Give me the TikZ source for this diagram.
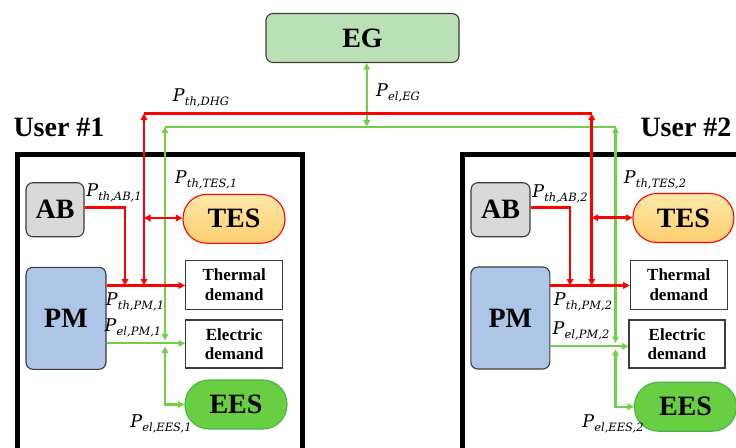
\documentclass[tikz,border=0pt]{standalone}
\usepackage{fontspec}
\setmainfont{Liberation Serif}
\newfontfamily\lblfont{DejaVu Serif}
\newcommand{\plab}[1]{{\lblfont\itshape\fontsize{17.5}{19}\selectfont P\kern0.2pt\raisebox{-4.2pt}{\fontsize{11.5}{12}\selectfont #1}}}
\usetikzlibrary{arrows.meta}
\definecolor{lred}{RGB}{255,0,0}
\definecolor{lgreen}{RGB}{112,208,72}
\definecolor{egfill}{RGB}{186,224,181}
\definecolor{abfill}{RGB}{217,217,217}
\definecolor{pmfill}{RGB}{173,198,232}
\definecolor{tesTop}{RGB}{255,232,168}
\definecolor{tesBot}{RGB}{252,206,112}
\definecolor{eesfill}{RGB}{104,206,66}
\definecolor{eesdraw}{RGB}{70,180,70}
\definecolor{boxdraw}{RGB}{60,60,60}
\tikzset{
  tip/.tip={Triangle[length=6.5pt,width=6.5pt]},
  big/.style={font=\fontsize{28}{30}\selectfont\bfseries, inner sep=0pt},
  unitbox/.style={big, draw=boxdraw, line width=1.1pt, rounded corners=7pt},
  storebox/.style={big, line width=1.1pt, rounded corners=24pt},
  demandbox/.style={draw=boxdraw, line width=1.2pt, fill=white, align=center, inner sep=0pt,
    font=\fontsize{17}{19.5}\selectfont\bfseries, minimum width=97pt, minimum height=49pt},
  redline/.style={draw=lred, line width=2.6pt},
  greenline/.style={draw=lgreen, line width=2.3pt},
  lbl/.style={inner sep=0pt},
  userlbl/.style={font=\fontsize{28}{30}\selectfont\bfseries, inner sep=0pt},
  frame/.style={draw=black, line width=5pt}
}
\begin{document}
\begin{tikzpicture}[x=1pt,y=-1pt]
\useasboundingbox (0,0) rectangle (736,447);
\clip (0,0) rectangle (736,447);

% ---- EG
\node[unitbox, fill=egfill, minimum width=193pt, minimum height=49pt] (EG) at (362.5,38) {EG};

% ---- user frames
\draw[frame] (17.5,470) -- (17.5,154) -- (302,154) -- (302,470);
\draw[frame] (462,470) -- (462,154) -- (760,154);
\node[userlbl] (U1) at (59,127) {User \#1};
\node[userlbl] (U2) at (686,127) {User \#2};

% ---- user 1 nodes
\node[unitbox, fill=abfill, minimum width=58pt, minimum height=54pt] (AB1) at (55,209.7) {AB};
\node[storebox, draw=lred, top color=tesTop, bottom color=tesBot, minimum width=102pt, minimum height=49pt] (TES1) at (234,218.8) {TES};
\node[demandbox] (TH1) at (234.2,284.7) {Thermal\\demand};
\node[demandbox, minimum height=48pt] (EL1) at (234.2,344) {Electric\\demand};
\node[unitbox, fill=pmfill, minimum width=80pt, minimum height=102pt] (PM1) at (66,318.3) {PM};
\node[storebox, draw=eesdraw, fill=eesfill, minimum width=102pt, minimum height=49pt] (EES1) at (236,404.5) {EES};

% ---- user 2 nodes
\node[unitbox, fill=abfill, minimum width=59pt, minimum height=54pt] (AB2) at (500.5,209.7) {AB};
\node[storebox, draw=lred, top color=tesTop, bottom color=tesBot, minimum width=101pt, minimum height=49pt] (TES2) at (683.4,218) {TES};
\node[demandbox] (TH2) at (678.8,284.7) {Thermal\\demand};
\node[demandbox, minimum width=96pt, minimum height=48pt] (EL2) at (677,344) {Electric\\demand};
\node[unitbox, fill=pmfill, minimum width=79pt, minimum height=102pt] (PM2) at (510.3,318) {PM};
\node[storebox, draw=eesdraw, fill=eesfill, minimum width=102pt, minimum height=49pt] (EES2) at (685.5,406.7) {EES};

% ---- junction coordinates
\coordinate (r1top) at (144,113.5);
\coordinate (r2top) at (591.7,113.5);
\coordinate (g1top) at (165,126.7);
\coordinate (g2top) at (615.5,126.7);
\coordinate (egj) at (366.7,126.7);
\coordinate (r1bot) at (144,285.5);
\coordinate (a1bot) at (125,285.5);
\coordinate (a1cor) at (125,207.7);
\coordinate (g1bot) at (165,340.3);
\coordinate (g1ees) at (165,346.6);
\coordinate (r2bot) at (591.7,285.5);
\coordinate (a2bot) at (570,285.5);
\coordinate (a2cor) at (570,207.7);
\coordinate (g2bot) at (615.5,343);
\coordinate (g2ees) at (615.5,349.2);

% ---- green lines (drawn first)
\draw[greenline] (g1top) -- (g2top);
\draw[greenline, {tip}-{tip}] (EG.south -| egj) -- (egj);
\draw[greenline, {tip}-{tip}] (g1top) -- (g1bot);
\draw[greenline, -{tip}] (PM1.east |- 0,343.3) -- (EL1.west |- 0,343.3);
\draw[greenline, {tip}-{tip}] (g1ees) -- (g1ees |- EES1.west) -- (EES1.west);
\draw[greenline, {tip}-{tip}] (g2top) -- (g2bot);
\draw[greenline, -{tip}] (PM2.east |- 0,346.2) -- (EL2.west |- 0,346.2);
\draw[greenline, {tip}-{tip}] (g2ees) -- (g2ees |- EES2.west) -- (EES2.west);

% ---- red lines
\draw[redline] (r1top) -- (r2top);
\draw[redline, {tip}-{tip}] (r1top) -- (r1bot);
\draw[redline, -{tip}] (AB1.east |- a1cor) -- (a1cor) -- (a1bot);
\draw[redline, {tip}-{tip}] (r1top |- 0,218) -- (TES1.west |- 0,218);
\draw[redline, -{tip}] (PM1.east |- r1bot) -- (TH1.west |- r1bot);
\draw[redline, {tip}-{tip}] (r2top) -- (r2bot);
\draw[redline, -{tip}] (AB2.east |- a2cor) -- (a2cor) -- (a2bot);
\draw[redline, {tip}-{tip}] (r2top |- 0,217.7) -- (TES2.west |- 0,217.7);
\draw[redline, -{tip}] (PM2.east |- r2bot) -- (TH2.west |- r2bot);

% ---- labels
\node[lbl] (lDHG) at (201,98) {\plab{th,DHG}};
\node[lbl] (lEG) at (398,93) {\plab{el,EG}};
\node[lbl] (lAB1) at (114,193) {\plab{th,AB,1}};
\node[lbl] (lTES1) at (206,180) {\plab{th,TES,1}};
\node[lbl] (lPMt1) at (135,302) {\plab{th,PM,1}};
\node[lbl] (lPMe1) at (133,328) {\plab{el,PM,1}};
\node[lbl] (lEES1) at (161,424) {\plab{el,EES,1}};
\node[lbl] (lAB2) at (560,194) {\plab{th,AB,2}};
\node[lbl] (lTES2) at (655,180) {\plab{th,TES,2}};
\node[lbl] (lPMt2) at (583,302) {\plab{th,PM,2}};
\node[lbl] (lPMe2) at (581,331) {\plab{el,PM,2}};
\node[lbl] (lEES2) at (613,424) {\plab{el,EES,2}};
\end{tikzpicture}
\end{document}
